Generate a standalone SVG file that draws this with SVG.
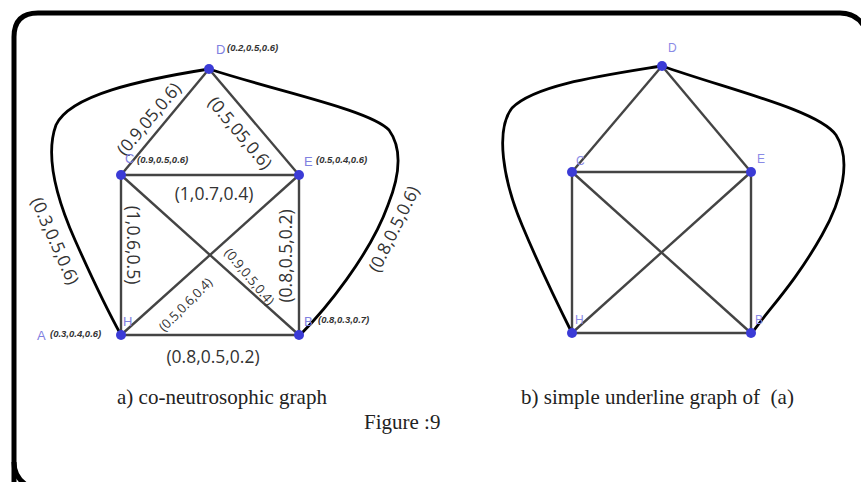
<svg xmlns="http://www.w3.org/2000/svg" width="861" height="482" viewBox="0 0 861 482">
<style>
.frame{fill:none;stroke:#000;stroke-width:5}
.e{stroke:#444;stroke-width:2.4;fill:none}
.c{stroke:#000;stroke-width:2.8;fill:none}
.dot{fill:#3b3bd6}
.nl{font-family:"Liberation Sans",Arial,sans-serif;fill:#8080e0;font-size:13px}
.nls{font-family:"Liberation Sans",Arial,sans-serif;fill:#8a8ae6;font-size:12px}
.nv{font-family:"Liberation Sans",Arial,sans-serif;fill:#333;font-size:9.5px;font-style:italic;font-weight:bold}
.el{font-family:"Open Sans","DejaVu Sans",sans-serif;fill:#333;font-size:17.5px;text-anchor:middle}
.es{font-family:"Open Sans","DejaVu Sans",sans-serif;fill:#333;font-size:13px;text-anchor:middle}
.cap{font-family:"Liberation Serif","Times New Roman",serif;fill:#222;font-size:21px}
</style>
<path class="frame" d="M14,490 L14,37 Q14,13 38,13 L840,13 Q858,13 866,30"/>
<path class="frame" d="M14,462 Q14,478 28,486"/>
<g id="connectors">
  <g id="conn-a">
    <line class="e" x1="209" y1="69" x2="121" y2="175"/>
    <line class="e" x1="209" y1="69" x2="299" y2="175"/>
    <line class="e" x1="121" y1="175" x2="299" y2="175"/>
    <line class="e" x1="121" y1="175" x2="121" y2="335"/>
    <line class="e" x1="299" y1="175" x2="299" y2="335"/>
    <line class="e" x1="121" y1="335" x2="299" y2="335"/>
    <line class="e" x1="121" y1="175" x2="299" y2="335"/>
    <line class="e" x1="121" y1="335" x2="299" y2="175"/>
    <path class="c" d="M209,69 C140,80 70,95 56,125 C45,155 55,195 75,240 C95,285 110,315 121,335"/>
    <path class="c" d="M209,69 C280,92 370,110 389,130 C402,148 400,175 388,205 C370,255 325,310 300,335"/>
  </g>
  <g id="conn-b">
    <line class="e" x1="662" y1="66" x2="572" y2="172"/>
    <line class="e" x1="662" y1="66" x2="751" y2="172"/>
    <line class="e" x1="572" y1="172" x2="751" y2="172"/>
    <line class="e" x1="572" y1="172" x2="572" y2="333"/>
    <line class="e" x1="751" y1="172" x2="751" y2="333"/>
    <line class="e" x1="572" y1="333" x2="751" y2="333"/>
    <line class="e" x1="572" y1="172" x2="751" y2="333"/>
    <line class="e" x1="572" y1="333" x2="751" y2="172"/>
    <path class="c" d="M662,66 C600,76 535,85 512,108 C495,130 503,180 522,225 C540,268 558,305 572,333"/>
    <path class="c" d="M662,66 C730,90 818,110 836,135 C852,160 842,200 822,235 C795,283 768,310 752,333"/>
  </g>
</g>
<g id="edge-labels">
  <text class="el" transform="translate(149,119) rotate(-50)" dy="6">(0.9,05,0.6)</text>
  <text class="el" transform="translate(240,133) rotate(50)" dy="6" font-size="18">(0.5,05,0.6)</text>
  <text class="el" x="214" y="200" font-size="20">(1,0.7,0.4)</text>
  <text class="el" transform="translate(133,245) rotate(90)" dy="6" font-size="18">(1,0.6,0.5)</text>
  <text class="el" transform="translate(286,256) rotate(-90)" dy="6">(0.8,0.5,0.2)</text>
  <text class="es" transform="translate(249,277) rotate(50)" dy="4">(0.9,0.5,0.4)</text>
  <text class="es" transform="translate(186,305) rotate(-45)" dy="4">(0.5,0.6,0.4)</text>
  <text class="el" transform="translate(55,241) rotate(66)" dy="6" font-size="19.5">(0.3,0.5,0.6)</text>
  <text class="el" transform="translate(394,229) rotate(-64)" dy="6" font-size="19">(0.8,0.5,0.6)</text>
  <text class="el" x="213" y="363" font-size="17">(0.8,0.5,0.2)</text>
</g>
<g id="node-a-D"><circle class="dot" cx="209" cy="69" r="5"/><text class="nl" x="216" y="54">D</text><text class="nv" x="227" y="51">(0.2,0.5,0.6)</text></g>
<g id="node-a-C"><circle class="dot" cx="121" cy="175" r="5"/><text class="nl" x="125" y="163" font-size="10">C</text><text class="nv" x="137" y="163">(0.9,0.5,0.6)</text></g>
<g id="node-a-E"><circle class="dot" cx="299" cy="175" r="5"/><text class="nl" x="304" y="166" font-size="14">E</text><text class="nv" x="316" y="163">(0.5,0.4,0.6)</text></g>
<g id="node-a-A"><circle class="dot" cx="121" cy="335" r="5"/><text class="nl" x="37" y="340" font-size="14">A</text><text class="nv" x="50" y="337">(0.3,0.4,0.6)</text></g>
<g id="node-a-H"><text class="nl" x="123" y="326">H</text></g>
<g id="node-a-B"><circle class="dot" cx="299" cy="335" r="5"/><text class="nl" x="304" y="326" font-size="14">B</text><text class="nv" x="318" y="323">(0.8,0.3,0.7)</text></g>
<g id="node-b-D"><circle class="dot" cx="662" cy="66" r="5"/><text class="nls" x="668" y="52">D</text></g>
<g id="node-b-C"><circle class="dot" cx="572" cy="172" r="5"/><text class="nls" x="576" y="165">C</text></g>
<g id="node-b-E"><circle class="dot" cx="751" cy="172" r="5"/><text class="nls" x="757" y="163">E</text></g>
<g id="node-b-H"><circle class="dot" cx="572" cy="333" r="5"/><text class="nls" x="575" y="324">H</text></g>
<g id="node-b-B"><circle class="dot" cx="751" cy="333" r="5"/><text class="nls" x="755" y="324">B</text></g>
<g id="captions">
  <text class="cap" x="117" y="404">a) co-neutrosophic graph</text>
  <text class="cap" x="521" y="404" xml:space="preserve">b) simple underline graph of  (a)</text>
  <text class="cap" x="364" y="429">Figure :9</text>
</g>
</svg>
